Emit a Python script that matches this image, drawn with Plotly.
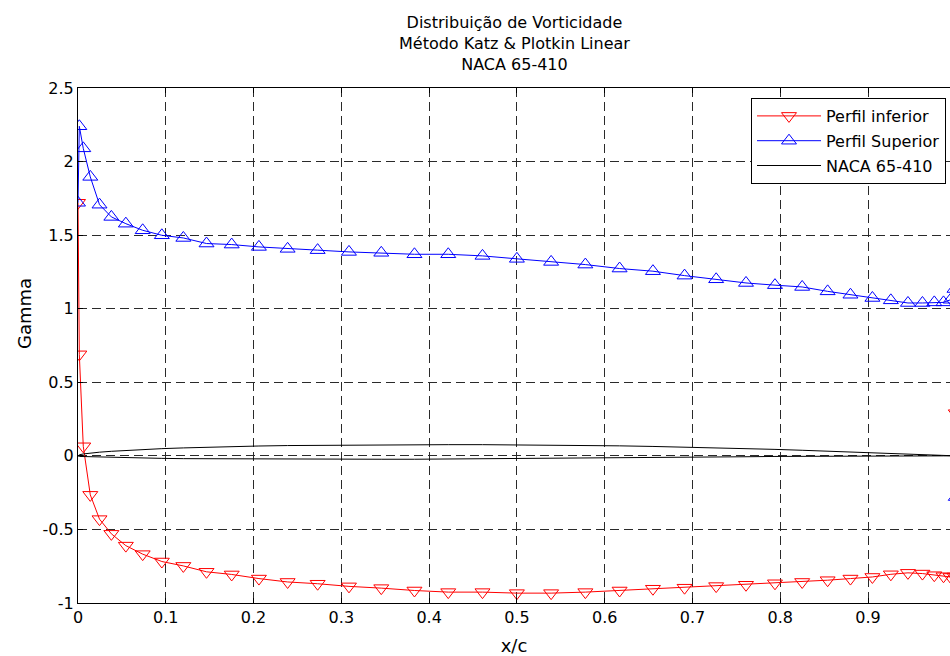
import plotly.graph_objects as go

# Chordwise node positions (x/c) shared by both surfaces
x_nodes = [0.0, 0.0015, 0.006, 0.014, 0.0245, 0.038, 0.0545, 0.0737, 0.0955, 0.12,
           0.1464, 0.1751, 0.2061, 0.2388, 0.273, 0.3087, 0.3455, 0.3833, 0.4218, 0.4608,
           0.5, 0.539, 0.578, 0.617, 0.655, 0.691, 0.727, 0.761, 0.794, 0.825,
           0.854, 0.880, 0.905, 0.926, 0.9455, 0.962, 0.9755, 0.986, 0.994, 0.9985, 1.0]

# Vortex strength on the lower surface
gamma_inferior = [1.72, 0.69, 0.065, -0.265, -0.43, -0.53, -0.61, -0.668, -0.718, -0.748,
                  -0.788, -0.806, -0.834, -0.857, -0.869, -0.887, -0.899, -0.915, -0.926, -0.926,
                  -0.933, -0.933, -0.926, -0.915, -0.903, -0.896, -0.885, -0.876, -0.866, -0.857,
                  -0.845, -0.834, -0.823, -0.805, -0.795, -0.80, -0.811, -0.818, -0.823, -0.82, 0.29]

# Vortex strength on the upper surface
gamma_superior = [1.72, 2.24, 2.09, 1.896, 1.707, 1.624, 1.578, 1.533, 1.499, 1.481,
                  1.443, 1.436, 1.420, 1.407, 1.398, 1.386, 1.380, 1.370, 1.370, 1.359,
                  1.339, 1.318, 1.300, 1.273, 1.255, 1.225, 1.20, 1.175, 1.16, 1.148,
                  1.118, 1.095, 1.073, 1.057, 1.039, 1.039, 1.043, 1.043, 1.061, 1.134, -0.28]

# NACA 65-410 profile ordinates
y_extradorso = [0.0, 0.007, 0.013, 0.019, 0.025, 0.031, 0.037, 0.043, 0.049, 0.054,
                0.059, 0.063, 0.067, 0.070, 0.072, 0.074, 0.075, 0.076, 0.076, 0.076,
                0.075, 0.073, 0.071, 0.068, 0.064, 0.060, 0.055, 0.050, 0.044, 0.038,
                0.032, 0.027, 0.022, 0.017, 0.013, 0.009, 0.006, 0.004, 0.002, 0.001, 0.0]
y_intradorso = [0.0, -0.004, -0.006, -0.008, -0.010, -0.011, -0.013, -0.015, -0.017, -0.019,
                -0.020, -0.021, -0.022, -0.023, -0.023, -0.023, -0.023, -0.023, -0.022, -0.021,
                -0.020, -0.018, -0.016, -0.014, -0.012, -0.010, -0.008, -0.006, -0.004, -0.002,
                -0.001, 0.0, 0.0, 0.0, 0.0, 0.0, 0.0, 0.0, 0.0, 0.0, 0.0]

x_ticks = [0, 0.1, 0.2, 0.3, 0.4, 0.5, 0.6, 0.7, 0.8, 0.9, 1.0]
x_ticktext = ["0", "0.1", "0.2", "0.3", "0.4", "0.5", "0.6", "0.7", "0.8", "0.9", "1"]
y_ticks = [-1, -0.5, 0, 0.5, 1, 1.5, 2, 2.5]
y_ticktext = ["-1", "-0.5", "0", "0.5", "1", "1.5", "2", "2.5"]

FONT = "DejaVu Sans"

# Plot area in pixels
L, R, T, B = 78, 950, 88, 603
W, H = R - L, B - T


def px_x(p):
    return (p - L) / W


def px_y(p):
    return (B - p) / H


fig = go.Figure()

fig.add_trace(go.Scatter(
    x=x_nodes, y=gamma_inferior, mode="lines+markers", name="Perfil inferior",
    legendgroup="a",
    line=dict(color="#ff0000", width=1),
    marker=dict(symbol="triangle-down-open", size=13, color="#ff0000",
                line=dict(color="#ff0000", width=1)),
))
fig.add_trace(go.Scatter(
    x=x_nodes, y=gamma_superior, mode="lines+markers", name="Perfil Superior",
    legendgroup="b",
    line=dict(color="#0000ff", width=1),
    marker=dict(symbol="triangle-up-open", size=13, color="#0000ff",
                line=dict(color="#0000ff", width=1)),
))

# Profile outline: upper surface LE->TE, then lower surface TE->LE
x_perfil = x_nodes + x_nodes[::-1]
y_perfil = y_extradorso + y_intradorso[::-1]
fig.add_trace(go.Scatter(
    x=x_perfil, y=y_perfil, mode="lines", name="NACA 65-410",
    legendgroup="c",
    line=dict(color="#000000", width=1),
))

axis_common = dict(
    showgrid=True, gridcolor="#2a2a2a", griddash="9px,5px", gridwidth=1,
    zeroline=False, showline=True, linecolor="#000000", linewidth=1,
    ticks="inside", ticklen=5, tickcolor="#000000",
    tickfont=dict(family=FONT, size=16, color="#000000"),
)

fig.update_xaxes(
    range=[0, 0.9934], tickvals=x_ticks, ticktext=x_ticktext,
    mirror="ticks",
    title=dict(text="x/c", font=dict(family=FONT, size=18, color="#000000"), standoff=17),
    **axis_common,
)
fig.update_yaxes(
    range=[-1, 2.5], tickvals=y_ticks, ticktext=y_ticktext,
    mirror=False, **axis_common,
)

fig.update_layout(
    width=950, height=656,
    margin=dict(l=L, r=950 - R, t=T, b=656 - B, autoexpand=False),
    paper_bgcolor="#ffffff", plot_bgcolor="#ffffff",
    font=dict(family=FONT, color="#000000"),
    showlegend=True,
    legend=dict(
        x=px_x(751), y=px_y(98), xanchor="left", yanchor="top",
        bgcolor="#ffffff", bordercolor="#000000", borderwidth=1,
        font=dict(family=FONT, size=16, color="#000000"),
        tracegroupgap=1, itemwidth=64,
    ),
)

# Three-line title
fig.add_annotation(
    text="Distribuição de Vorticidade<br>Método Katz & Plotkin Linear<br>NACA 65-410",
    xref="paper", yref="paper", x=0.5, y=px_y(11),
    xanchor="center", yanchor="top", showarrow=False,
    font=dict(family=FONT, size=16, color="#000000"),
)

# Y axis label
fig.add_annotation(
    text="Gamma", xref="paper", yref="paper", x=px_x(24), y=px_y(314),
    xanchor="center", yanchor="middle", showarrow=False, textangle=-90,
    font=dict(family=FONT, size=18, color="#000000"),
)

# Caption of the document page, running off the bottom edge
fig.add_annotation(
    text="Figura 3.11 - Vorticidade calculada pelo método linear de Katz & Plotkin para o perfil NACA 65-410",
    xref="paper", yref="paper", x=px_x(30), y=px_y(650),
    xanchor="left", yanchor="top", showarrow=False,
    font=dict(family="Liberation Sans", size=24, color="#b4b4b4"),
)

fig.write_html("out.html")
